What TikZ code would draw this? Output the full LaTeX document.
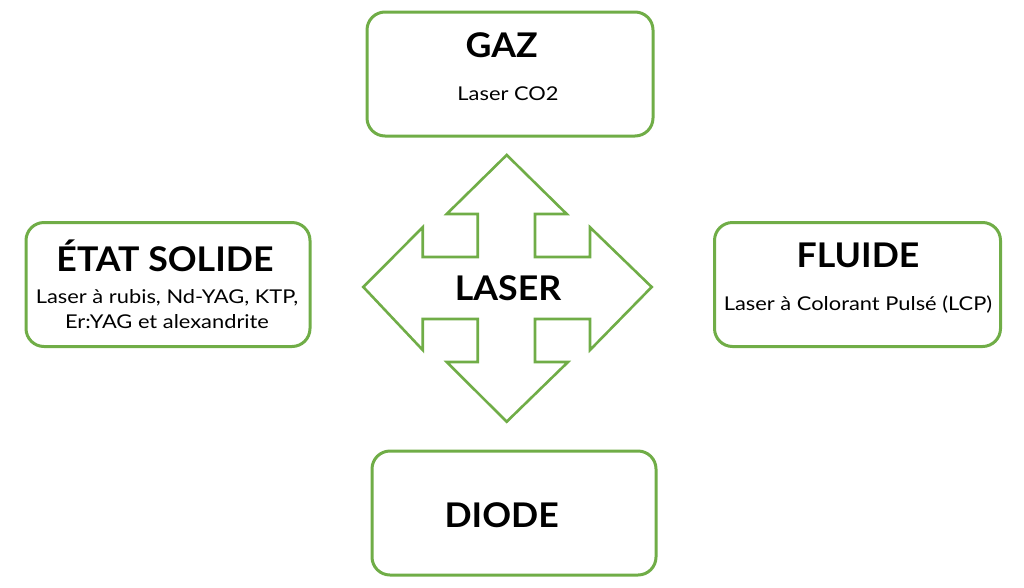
\documentclass[tikz,border=0pt]{standalone}
\usepackage{fontspec}
\setmainfont{Lato}
\newfontfamily\titlefont{Lato}[FakeStretch=1.05]
\newfontfamily\subfont{Lato}[FakeStretch=1.15]
\definecolor{lgreen}{RGB}{112,173,71}
\tikzset{
  box/.style={draw=lgreen, line width=3pt, rounded corners=18pt, fill=white, inner sep=0pt},
  title/.style={font=\titlefont\bfseries\fontsize{34}{38}\selectfont, text=black, inner sep=0pt},
  sub/.style={font=\subfont\fontsize{19}{24.5}\selectfont, text=black, inner sep=0pt, align=center},
}
\begin{document}
\begin{tikzpicture}[x=1pt,y=-1pt]
\useasboundingbox (0,0) rectangle (1024,587);
% boxes
\node[box, minimum width=286pt, minimum height=124pt] (gaz) at (510,74) {};
\node[box, minimum width=284pt, minimum height=124pt] (solide) at (168,284.5) {};
\node[box, minimum width=286pt, minimum height=124pt] (fluide) at (857.5,284.5) {};
\node[box, minimum width=284pt, minimum height=124pt] (diode) at (514,513) {};
% texts
\node[title] (tgaz) at (501.7,45) {GAZ};
\node[sub] (sgaz) at (508,94) {Laser CO2};
\node[title] (tsol) at (165,256) {ÉTAT SOLIDE};
\node[sub] (ssol) at (167,309) {Laser à rubis, Nd-YAG, KTP,\\Er:YAG et alexandrite};
\node[title] (tflu) at (858,255) {FLUIDE};
\node[sub] (sflu) at (858,305) {Laser à Colorant Pulsé (LCP)};
\node[title] (tdio) at (501.7,515) {DIODE};
% cross
\draw[draw=lgreen, line width=2.6pt, line join=miter, fill=white]
 (506.7,155) -- (566.7,214) -- (535,214) -- (535,257) -- (590,257) -- (590,227.3)
 -- (651.7,287) -- (590,350) -- (590,319) -- (535,319) -- (535,362) -- (568,362)
 -- (506.7,421.7) -- (446.7,362) -- (477.7,362) -- (477.7,319) -- (422.7,319)
 -- (422.7,350) -- (363.3,287) -- (422.7,227.3) -- (422.7,257) -- (477.7,257)
 -- (477.7,214) -- (446.7,214) -- cycle;
\node[title] (laser) at (508,288) {LASER};
\end{tikzpicture}
\end{document}
